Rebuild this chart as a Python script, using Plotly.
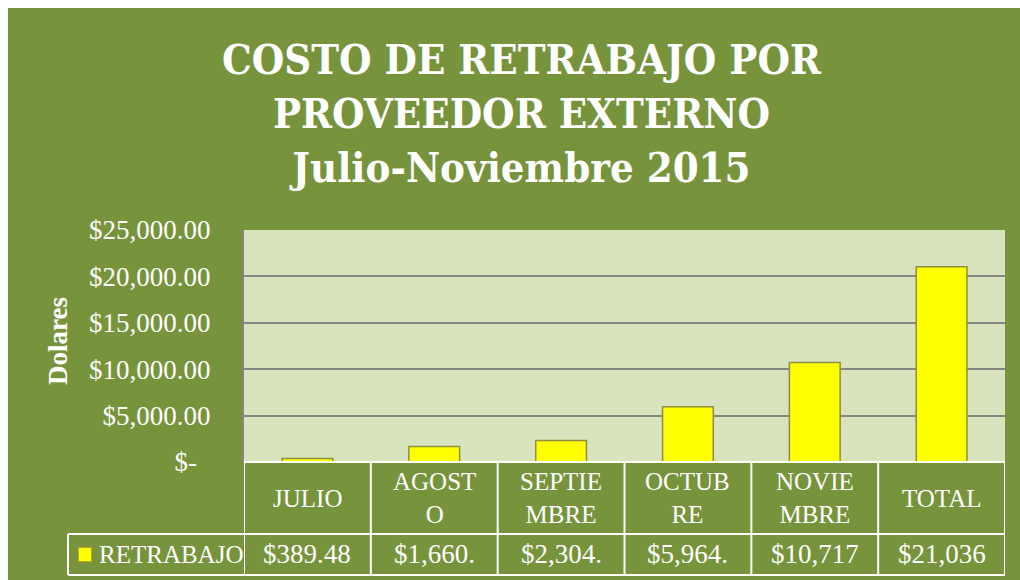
import plotly.graph_objects as go

# ---- data -------------------------------------------------------------
months = ["JULIO", "AGOSTO", "SEPTIEMBRE", "OCTUBRE", "NOVIEMBRE", "TOTAL"]
header_labels = ["JULIO", "AGOST<br>O", "SEPTIE<br>MBRE", "OCTUB<br>RE", "NOVIE<br>MBRE", "TOTAL"]
rework_cost = [389.48, 1660.0, 2304.0, 5964.0, 10717.0, 21036.0]
series_name = "RETRABAJO"
y_ticks = [0, 5000, 10000, 15000, 20000, 25000]
y_tick_labels = ["$-\u00a0\u00a0", "$5,000.00", "$10,000.00", "$15,000.00", "$20,000.00", "$25,000.00"]
title_lines = ["COSTO DE RETRABAJO POR", "PROVEEDOR EXTERNO", "Julio-Noviembre 2015"]

# ---- styling ----------------------------------------------------------
W, H = 1020, 580
GREEN = "#77933C"
PLOT_BG = "#D7E4BD"
GRID = "#868686"
BAR = "#FFFF00"
BAR_EDGE = "#8F8F3F"
SERIF = "Liberation Serif"
TITLE_FONT = "DejaVu Serif Condensed, Liberation Serif"


def px(x):
    return x / W


def py(y):
    return 1 - y / H


# table cells are narrow, so values get clipped to seven characters
def cell_text(v):
    return f"${v:,.2f}"[:7]


fig = go.Figure()

fig.add_trace(go.Bar(
    x=months,
    y=rework_cost,
    name=series_name,
    marker=dict(color=BAR, line=dict(color=BAR_EDGE, width=1.5)),
    hoverinfo="skip",
    showlegend=False,
))

shapes = [
    # white strips along the top and left edges of the page
    dict(type="rect", xref="paper", yref="paper", x0=0, x1=1, y0=py(8), y1=1,
         fillcolor="white", line=dict(width=0), layer="above"),
    dict(type="rect", xref="paper", yref="paper", x0=0, x1=px(8), y0=0, y1=1,
         fillcolor="white", line=dict(width=0), layer="above"),
    # series key inside the table's row header
    dict(type="rect", xref="paper", yref="paper", x0=px(78), x1=px(92),
         y0=py(562), y1=py(547), fillcolor=BAR, line=dict(color=BAR_EDGE, width=1.5),
         layer="above"),
]

line_style = dict(color="white", width=2)
n = len(months)
# data table grid under the plot
for yy in (462, 534, 575):
    shapes.append(dict(type="line", xref="x", yref="paper", x0=-0.5, x1=n - 0.5,
                       y0=py(yy), y1=py(yy), line=line_style, layer="above"))
for yy in (534, 575):
    shapes.append(dict(type="line", xref="paper", yref="paper", x0=px(68), x1=px(244),
                       y0=py(yy), y1=py(yy), line=line_style, layer="above"))
for i in range(n + 1):
    shapes.append(dict(type="line", xref="x", yref="paper", x0=i - 0.5, x1=i - 0.5,
                       y0=py(462), y1=py(575), line=line_style, layer="above"))
shapes.append(dict(type="line", xref="paper", yref="paper", x0=px(68), x1=px(68),
                   y0=py(534), y1=py(575), line=line_style, layer="above"))

annotations = [
    dict(text="<br>".join(title_lines), xref="paper", yref="paper",
         x=px(522), y=py(113), xanchor="center", yanchor="middle", showarrow=False,
         font=dict(family=TITLE_FONT, size=41.5, color="white", weight="bold")),
    dict(text="Dolares", xref="paper", yref="paper", x=px(58), y=py(341),
         xanchor="center", yanchor="middle",
         textangle=-90, showarrow=False,
         font=dict(family=SERIF, size=27, color="white", weight="bold")),
    dict(text=series_name, xref="paper", yref="paper", x=px(97), y=py(554),
         xanchor="left", yanchor="middle", showarrow=False,
         font=dict(family=SERIF, size=25, color="white")),
]
for m, lab, v in zip(months, header_labels, rework_cost):
    annotations.append(dict(text=lab, xref="x", yref="paper", x=m, y=py(498),
                            showarrow=False, yanchor="middle",
                            font=dict(family=SERIF, size=25, color="white")))
    annotations.append(dict(text=cell_text(v), xref="x", yref="paper", x=m, y=py(554),
                            showarrow=False, yanchor="middle",
                            font=dict(family=SERIF, size=27, color="white")))

fig.update_layout(
    width=W, height=H, autosize=False,
    margin=dict(l=0, r=0, t=0, b=0, pad=0),
    paper_bgcolor=GREEN,
    plot_bgcolor=PLOT_BG,
    showlegend=False,
    bargap=0.6,
    xaxis=dict(
        type="category", domain=[px(244), px(1005)], range=[-0.5, n - 0.5],
        showticklabels=False, showgrid=False, zeroline=False, showline=False,
        automargin=False,
    ),
    yaxis=dict(
        domain=[py(462), py(230)], range=[0, 25000],
        tickvals=y_ticks, ticktext=y_tick_labels,
        tickfont=dict(family=SERIF, size=27, color="white"),
        ticklabelstandoff=26,
        showgrid=True, gridcolor=GRID, gridwidth=2,
        showline=True, linecolor=GRID, linewidth=2,
        zeroline=False, automargin=False,
    ),
    shapes=shapes,
    annotations=annotations,
)

fig.write_html("out.html")
